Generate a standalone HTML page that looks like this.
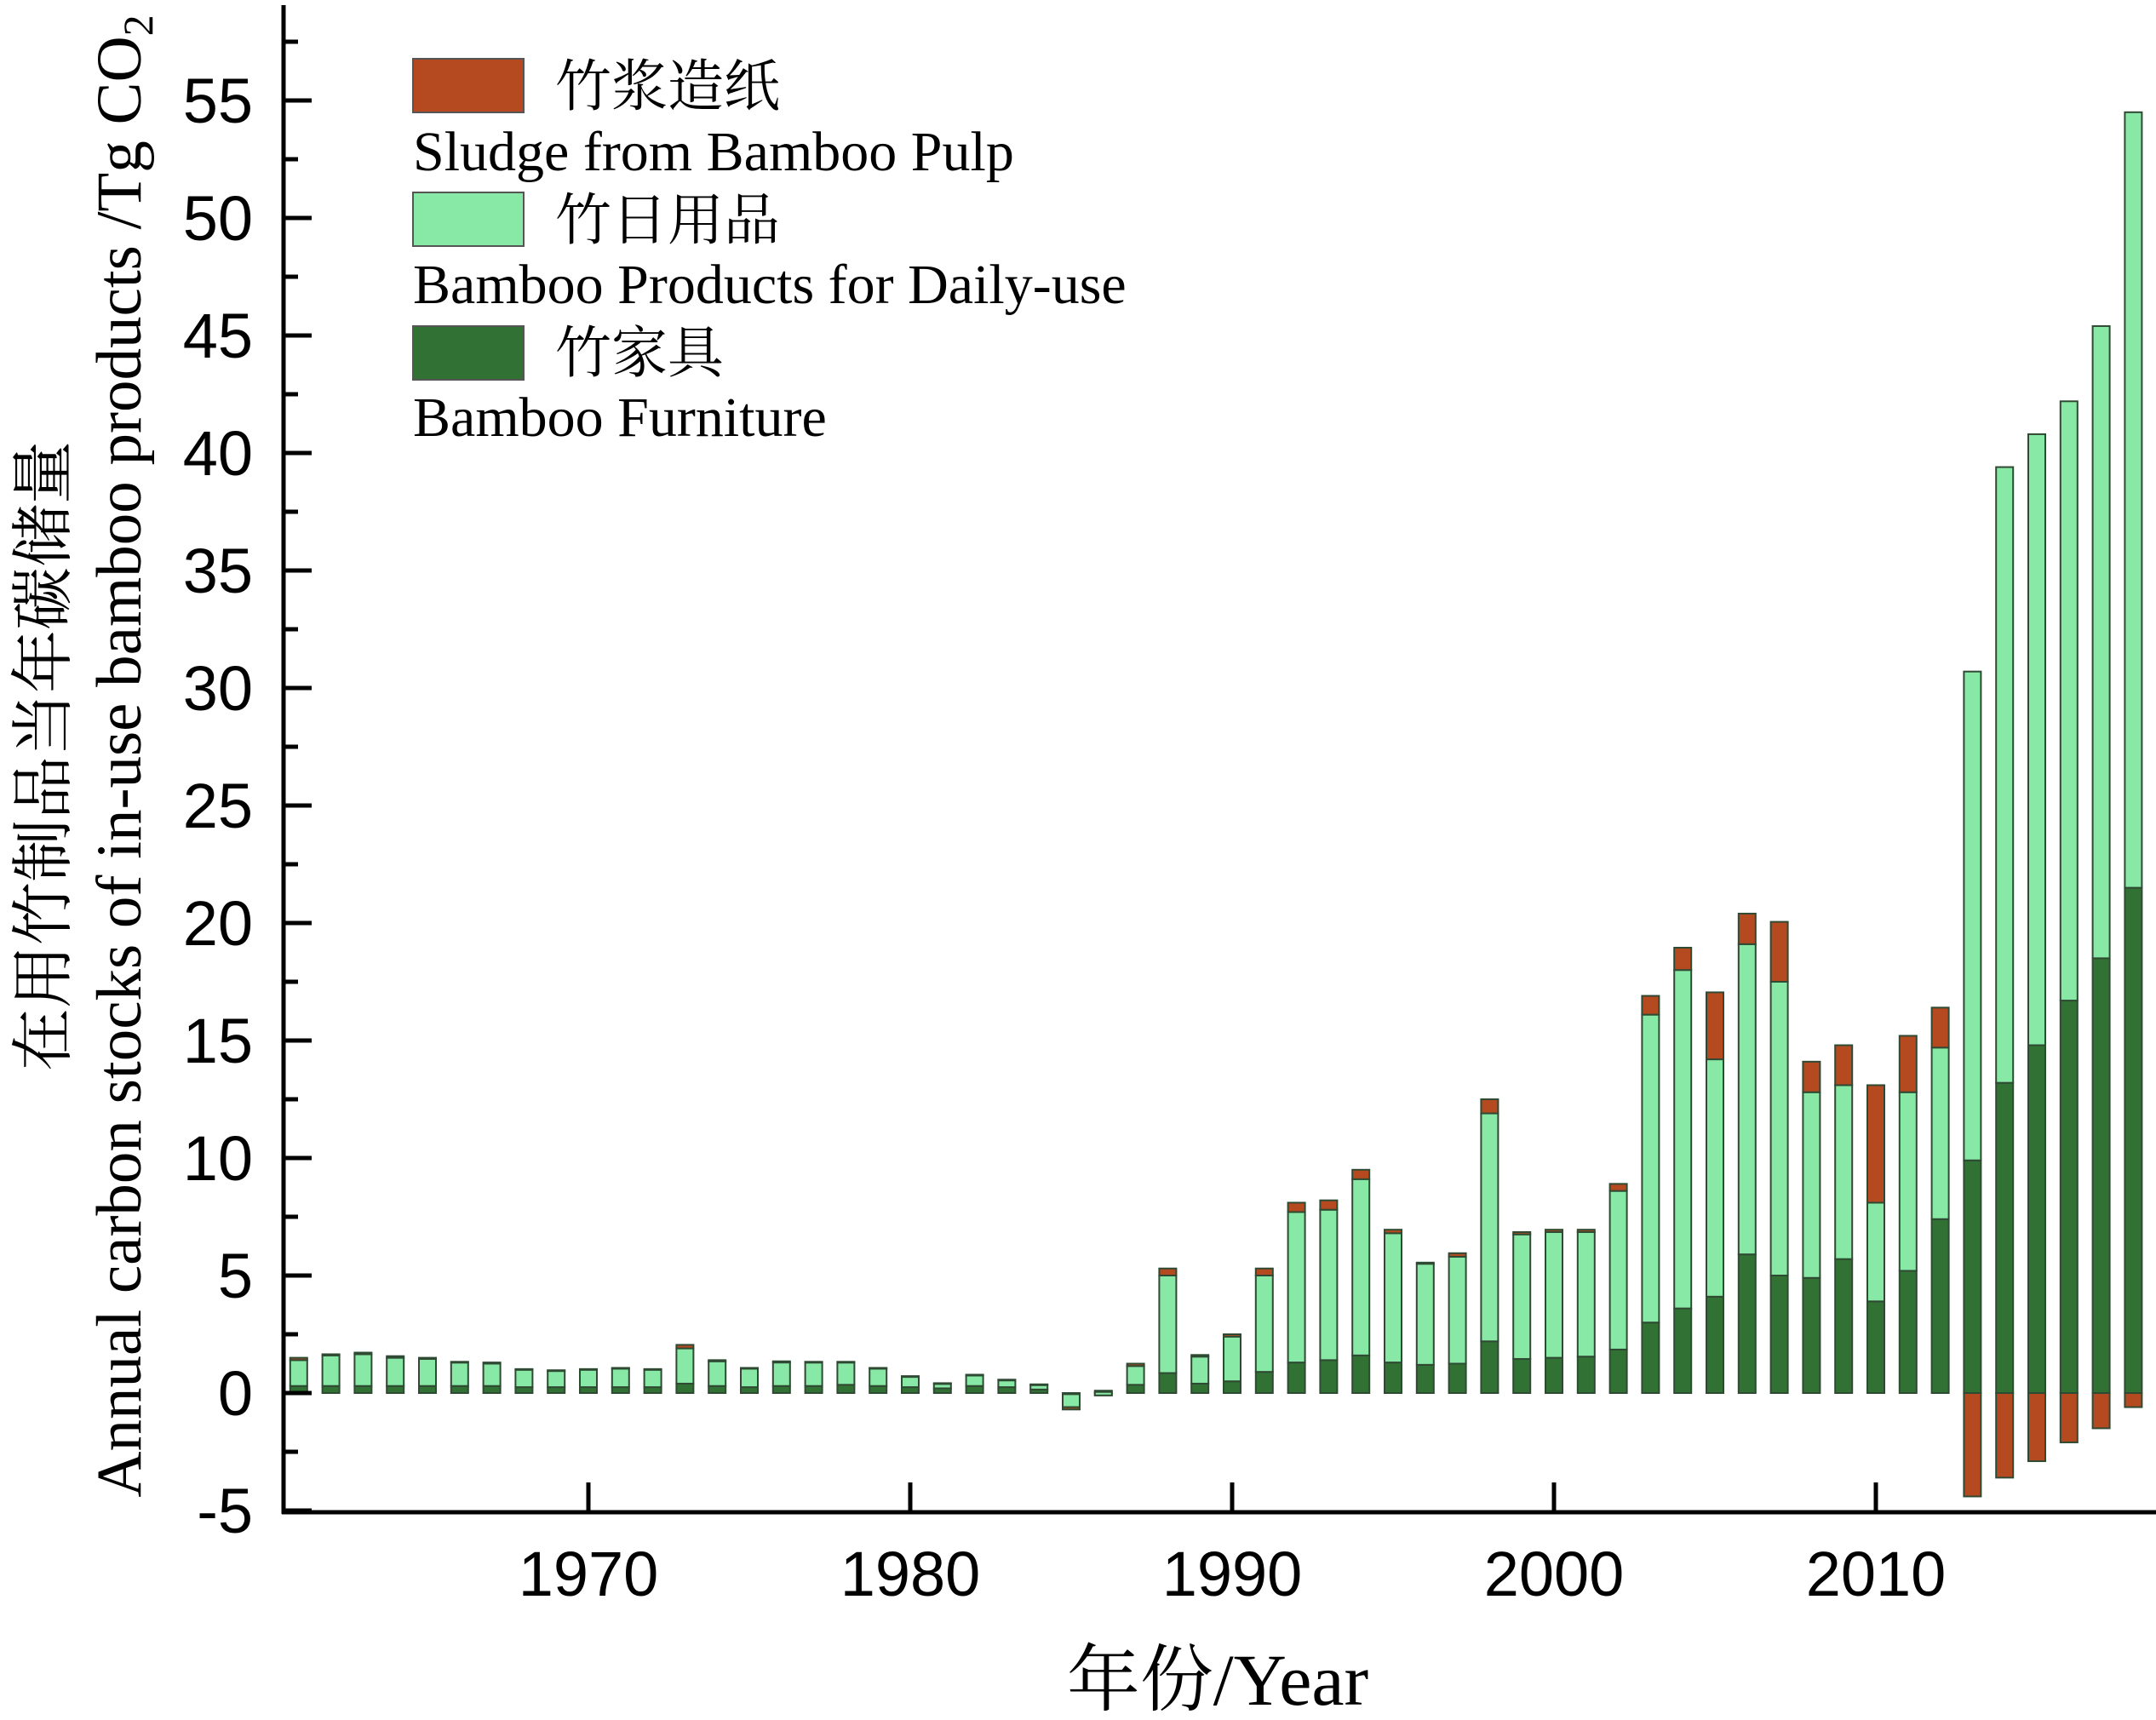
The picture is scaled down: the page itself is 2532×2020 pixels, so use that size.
<!DOCTYPE html>
<html><head><meta charset="utf-8"><style>
html,body{margin:0;padding:0;background:#fff;}
svg{display:block;}
.s{font-family:"Liberation Serif","Noto Serif CJK SC","Noto Sans CJK SC",serif;}
.n{font-family:"Liberation Sans",sans-serif;}
</style></head><body>
<svg id="c" width="2532" height="2020" viewBox="0 0 2532 2020" xmlns="http://www.w3.org/2000/svg">
<g id="bars" stroke="#2f4a33" stroke-width="2"></g>
<g stroke="#000" stroke-width="5" fill="none">
<line x1="333" y1="6" x2="333" y2="1778"/>
<line x1="331" y1="1776" x2="2532" y2="1776"/>
</g>
<g id="ticks" stroke="#000" stroke-width="5"></g>
<g class="n" font-size="74" text-anchor="end" fill="#000" id="ylab"></g>
<g class="n" font-size="74" text-anchor="middle" fill="#000">
<text x="691" y="1874">1970</text>
<text x="1069" y="1874">1980</text>
<text x="1447" y="1874">1990</text>
<text x="1825" y="1874">2000</text>
<text x="2203" y="1874">2010</text>
</g>
<text class="s" x="1430" y="2002" font-size="86" text-anchor="middle">年份/Year</text>
<text class="s" transform="translate(76,888) rotate(-90)" font-size="74" text-anchor="middle">在用竹制品当年碳储量</text>
<text class="s" transform="translate(165,888) rotate(-90)" font-size="75" text-anchor="middle">Annual carbon stocks of in-use bamboo products /Tg CO<tspan font-size="50" dy="14">2</tspan></text>
<g class="s" font-size="66" fill="#000">
<rect x="485" y="69" width="130" height="63" fill="#b54a20" stroke="#555" stroke-width="2"/>
<text x="652" y="124">竹浆造纸</text>
<text x="485" y="200">Sludge from Bamboo Pulp</text>
<rect x="485" y="226" width="130" height="63" fill="#88e8a5" stroke="#555" stroke-width="2"/>
<text x="652" y="281">竹日用品</text>
<text x="485" y="356">Bamboo Products for Daily-use</text>
<rect x="485" y="383" width="130" height="63" fill="#317234" stroke="#555" stroke-width="2"/>
<text x="652" y="437">竹家具</text>
<text x="485" y="512">Bamboo Furniture</text>
</g>
</svg>
<script>
var Y=function(v){return 1636-27.6*v;};
var X=function(yr){return 691+(yr-1970)*37.8;};
var d={1961:[0.3,1.4,1.5],1962:[0.3,1.6,1.65],1963:[0.3,1.65,1.72],1964:[0.3,1.5,1.57],1965:[0.3,1.45,1.5],1966:[0.3,1.3,1.33],1967:[0.3,1.25,1.3],1968:[0.25,1.0,1.02],1969:[0.25,0.95,0.97],1970:[0.25,1.0,1.02],1971:[0.25,1.05,1.07],1972:[0.25,1.0,1.02],1973:[0.4,1.9,2.05],1974:[0.3,1.35,1.4],1975:[0.25,1.05,1.07],1976:[0.3,1.3,1.35],1977:[0.3,1.3,1.33],1978:[0.35,1.3,1.33],1979:[0.3,1.05,1.07],1980:[0.25,0.7,0.72],1981:[0.2,0.4,0.42],1982:[0.3,0.75,0.78],1983:[0.25,0.55,0.57],1984:[0.15,0.35,0.37],1985:[-0.05,-0.6,-0.7],1986:[-0.1,0.05,0.1],1987:[0.35,1.15,1.25],1988:[0.85,5.0,5.3],1989:[0.4,1.55,1.62],1990:[0.5,2.4,2.5],1991:[0.9,5.0,5.3],1992:[1.3,7.7,8.1],1993:[1.4,7.8,8.2],1994:[1.6,9.1,9.5],1995:[1.3,6.8,6.95],1996:[1.2,5.5,5.55],1997:[1.25,5.8,5.95],1998:[2.2,11.9,12.5],1999:[1.45,6.75,6.85],2000:[1.5,6.85,6.95],2001:[1.55,6.85,6.95],2002:[1.85,8.6,8.9],2003:[3.0,16.1,16.9],2004:[3.6,18.0,18.95],2005:[4.1,14.2,17.05],2006:[5.9,19.1,20.4],2007:[5.0,17.5,20.05],2008:[4.9,12.8,14.1],2009:[5.7,13.1,14.8],2010:[3.9,8.1,13.1],2011:[5.2,12.8,15.2],2012:[7.4,14.7,16.4],2013:[9.9,30.7,-4.4],2014:[13.2,39.4,-3.6],2015:[14.8,40.8,-2.9],2016:[16.7,42.2,-2.1],2017:[18.5,45.4,-1.5],2018:[21.5,54.5,-0.6]};
var ns="http://www.w3.org/2000/svg",g=document.getElementById("bars");
function r(x,a,b,f){var y1=Y(a),y2=Y(b),e=document.createElementNS(ns,"rect");e.setAttribute("x",x-10);e.setAttribute("width",20);e.setAttribute("y",Math.min(y1,y2));e.setAttribute("height",Math.max(Math.abs(y1-y2),1));e.setAttribute("fill",f);g.appendChild(e);}
for(var yr in d){var v=d[yr],x=X(+yr);
 r(x,0,v[0],"#317234");
 if(+yr>=2013){r(x,v[0],v[1],"#88e8a5");r(x,0,v[2],"#b54a20");}
 else{r(x,v[0],v[1],"#88e8a5");r(x,v[1],v[2],"#b54a20");}
}
var t=document.getElementById("ticks"),yl=document.getElementById("ylab");
for(var v=-5;v<=57.5;v+=2.5){var l=document.createElementNS(ns,"line"),major=(v%5===0);
 l.setAttribute("x1",333);l.setAttribute("x2",major?366:350);l.setAttribute("y1",Y(v));l.setAttribute("y2",Y(v));t.appendChild(l);
 if(major){var tx=document.createElementNS(ns,"text");tx.setAttribute("x",297);tx.setAttribute("y",Y(v)+26);tx.textContent=v;yl.appendChild(tx);}}
[1970,1980,1990,2000,2010].forEach(function(yr){var l=document.createElementNS(ns,"line");l.setAttribute("x1",X(yr));l.setAttribute("x2",X(yr));l.setAttribute("y1",1776);l.setAttribute("y2",1741);t.appendChild(l);});
</script>
</body></html>
